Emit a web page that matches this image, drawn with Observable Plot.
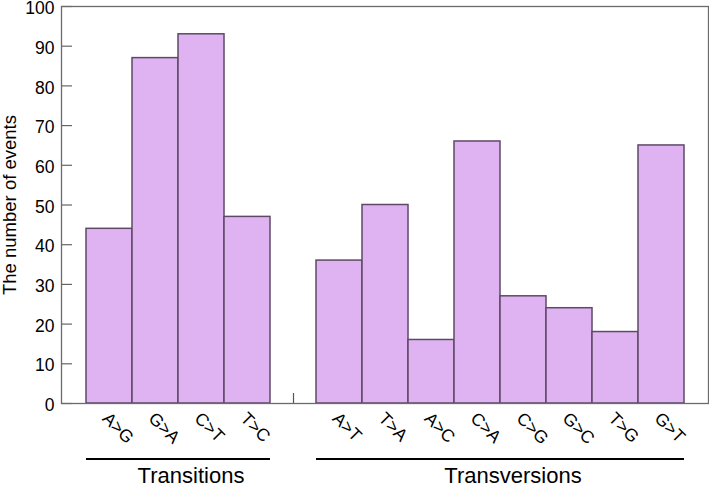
<!DOCTYPE html>
<html><head><meta charset="utf-8">
<script src="https://cdn.jsdelivr.net/npm/d3@7"></script>
<script src="https://cdn.jsdelivr.net/npm/@observablehq/plot@0.6"></script>
<style>body{margin:0;background:#fff}</style>
</head><body><div id="chart"></div>
<script>
const categories = ["A>G","G>A","C>T","T>C","gap","A>T","T>A","A>C","C>A","C>G","G>C","T>G","G>T"];
const values = [44,87,93,47,null,36,50,16,66,27,24,18,65];
const groupNames = ["Transitions","Transversions"];
const groupStart = ["A>G","A>T"];
const groupEnd = ["T>C","G>T"];
const yTicks = [0,10,20,30,40,50,60,70,80,90,100];
const yLabel = "The number of events";

const data = categories.map((c,i)=>({cat:c, value:values[i]})).filter(d=>d.value!=null);
const font = "'Liberation Sans', Arial, Helvetica, sans-serif";

const chart = Plot.plot({
  width:709, height:492, marginLeft:61, marginRight:1, marginTop:6, marginBottom:89,
  style:{fontFamily:font, background:"#fff", color:"#000"},
  x:{domain:categories, paddingInner:0, paddingOuter:0.5, axis:null},
  y:{domain:[0,100], axis:null},
  marks:[
    Plot.ruleX(["gap"], {x:d=>d, insetTop:387, stroke:"#555", strokeWidth:1.2}),
    Plot.ruleY(yTicks, {y:d=>d, insetRight:636, stroke:"#666", strokeWidth:1.2}),
    Plot.barY(data, {x:"cat", y:"value", fill:"#dfb3f1", stroke:"#5e4a66", strokeWidth:1.5}),
    Plot.frame({stroke:"#6b6b6b", strokeWidth:1.3}),
    Plot.axisY(yTicks, {tickSize:0, tickPadding:7, fontSize:17.5, dy:2, label:null}),
    Plot.axisX(categories.filter(c=>c!=="gap"), {tickSize:0, tickPadding:8, tickRotate:45, fontSize:17.5, dx:-4, dy:4, label:null}),
    Plot.text([yLabel], {frameAnchor:"left", rotate:-90, dx:-51, fontSize:18.5, textAnchor:"middle", text:d=>d})
  ]
});
document.getElementById("chart").append(chart);

const xs = chart.scale("x");
const svg = d3.select(chart);
groupNames.forEach((name,i)=>{
  const x1 = xs.apply(groupStart[i]);
  const x2 = xs.apply(groupEnd[i]) + xs.bandwidth;
  svg.append("line").attr("x1",x1).attr("x2",x2).attr("y1",459).attr("y2",459)
    .attr("stroke","#000").attr("stroke-width",2);
  svg.append("text").attr("x",(x1+x2)/2 + 13).attr("y",483).attr("text-anchor","middle")
    .attr("font-size",22).attr("font-family",font).attr("fill","#000").text(name);
});
</script>
</body></html>
